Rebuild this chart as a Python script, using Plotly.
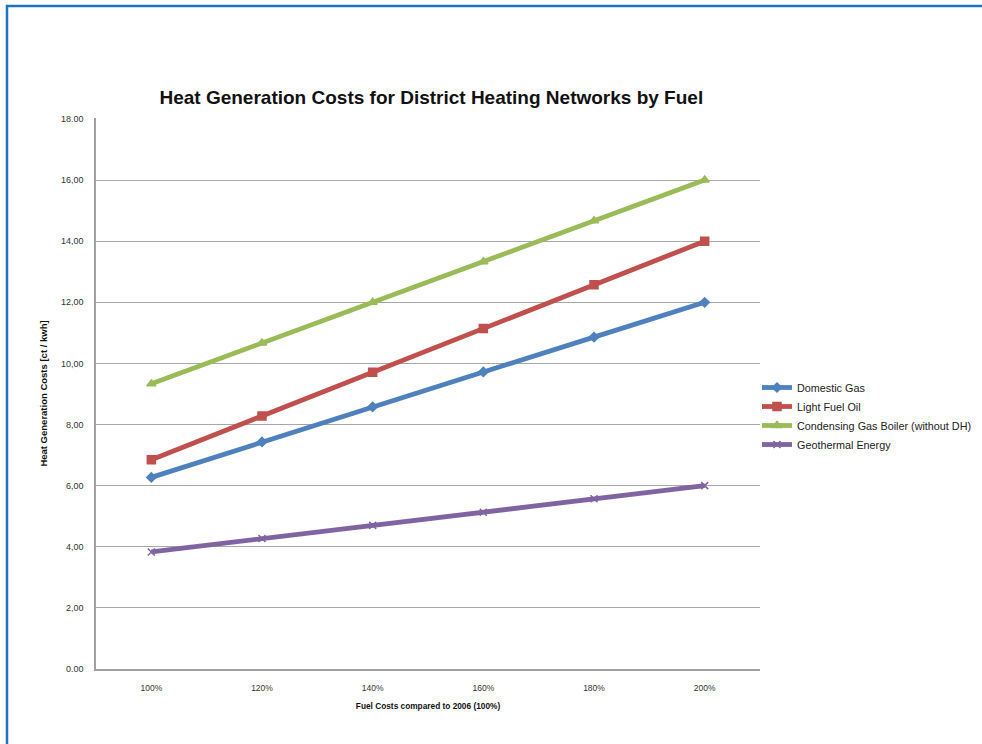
import plotly.graph_objects as go

categories = ["100%", "120%", "140%", "160%", "180%", "200%"]
domestic_gas = [6.27, 7.43, 8.58, 9.72, 10.86, 12.0]
light_fuel_oil = [6.85, 8.28, 9.71, 11.14, 12.57, 14.0]
condensing_gas = [9.33, 10.67, 12.0, 13.33, 14.67, 16.0]
geothermal = [3.83, 4.27, 4.70, 5.13, 5.57, 6.0]

series_names = ["Domestic Gas", "Light Fuel Oil", "Condensing Gas Boiler (without DH)", "Geothermal Energy"]
y_ticks = [0, 2, 4, 6, 8, 10, 12, 14, 16, 18]
y_tick_labels = ["0.00", "2,00", "4,00", "6,00", "8,00", "10,00", "12,00", "14,00", "16,00", "18.00"]

colors = ["#4F81BD", "#C0504D", "#9BBB59", "#8064A2"]
symbols = ["diamond", "square", "triangle-up", "x-thin"]
msizes = [7, 8, 8, 7]

fig = go.Figure()
for name, vals, c, s, ms in zip(series_names, [domestic_gas, light_fuel_oil, condensing_gas, geothermal], colors, symbols, msizes):
    fig.add_trace(go.Scatter(
        x=categories, y=vals, name=name, mode="lines+markers",
        line=dict(color=c, width=4.8),
        marker=dict(symbol=s, size=ms, color=c, line=dict(color=c, width=1.5)),
    ))

L, R, T, B = 96, 222, 118, 75
W, H = 982, 744
pw, ph = W - L - R, H - T - B

fig.update_layout(
    width=W, height=H,
    margin=dict(l=L, r=R, t=T, b=B, autoexpand=False),
    paper_bgcolor="white", plot_bgcolor="white",
    font=dict(family="Liberation Sans, Arial, sans-serif", color="#222222"),
    title=dict(text="<b>Heat Generation Costs for District Heating Networks by Fuel</b>",
               x=0.505, xref="paper", xanchor="center", y=1 - 97 / H, yanchor="middle",
               font=dict(size=19, color="#111111")),
    xaxis=dict(type="category", showgrid=False, showline=True, linecolor="#A0A0A0", linewidth=1.5,
               ticks="", ticklabelstandoff=10, tickfont=dict(size=8.5, color="#333333"), range=[-0.5, 5.5],
               title=dict(text="<b>Fuel Costs compared to 2006 (100%)</b>", font=dict(size=8.3, color="#111111"), standoff=11)),
    yaxis=dict(range=[0, 18.03], tickvals=y_ticks, ticktext=y_tick_labels, showgrid=True,
               gridcolor="#A8A8A8", gridwidth=1.2, showline=True, linecolor="#A0A0A0", linewidth=1.5,
               ticks="", ticklabelstandoff=9, tickfont=dict(size=9, color="#333333"), zeroline=False,
               title=dict(text="<b>Heat Generation Costs [ct / kwh]</b>", font=dict(size=9.5, color="#111111"), standoff=12)),
    legend=dict(xref="container", yref="container", x=757 / W, y=1 - 416 / H, xanchor="left", yanchor="middle",
                font=dict(size=10.8, color="#222222"), itemwidth=30, bgcolor="rgba(0,0,0,0)",
                tracegroupgap=0),
    showlegend=True,
)

# blue page frame
fig.add_shape(type="rect", xref="paper", yref="paper",
              x0=(7 - L) / pw, x1=(W + 20 - L) / pw,
              y0=(H - B - (H + 20)) / ph, y1=(H - B - 6) / ph,
              line=dict(color="#1E73BE", width=2.5), fillcolor="rgba(0,0,0,0)", layer="below")

fig.write_html("out.html", config={"displayModeBar": False},
               post_script="document.body.style.margin='0';document.body.style.padding='0';")
